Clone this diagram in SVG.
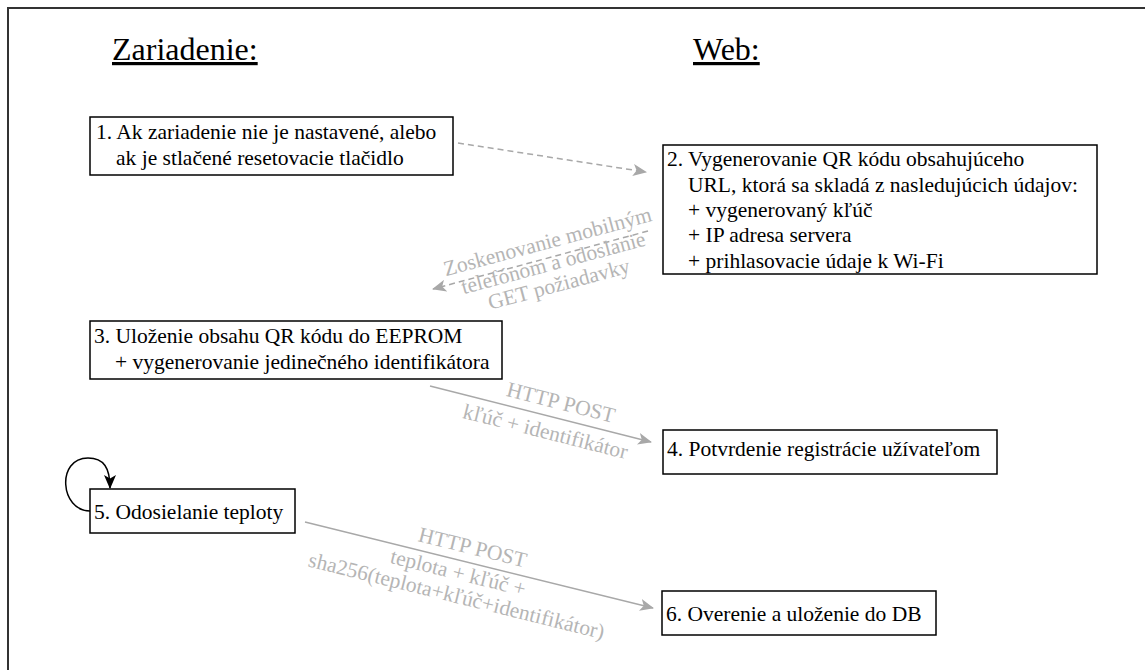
<svg xmlns="http://www.w3.org/2000/svg" width="1145" height="670" viewBox="0 0 1145 670">
<defs>
<style>
.node rect{fill:#fff;stroke:#000;stroke-width:1.5}
.node text, .title{font-family:"Liberation Serif","Times New Roman",serif;fill:#000}
.node text{font-size:21.5px}
.title{font-size:32px;text-decoration:underline}
.lbl{font-family:"Liberation Serif","Times New Roman",serif;font-size:21.5px;fill:#b5b5b5;text-anchor:middle}
.grey{fill:none;stroke:#a8a8a8;stroke-width:1.5}
.dash{stroke-dasharray:6 4}
</style>
<marker id="ag" viewBox="0 0 14 12" refX="13" refY="6" markerWidth="14" markerHeight="12" markerUnits="userSpaceOnUse" orient="auto">
<path d="M0,0 L14,6 L0,12 L3.5,6 z" fill="#a8a8a8"/>
</marker>
<marker id="ab" viewBox="0 0 14 12" refX="13" refY="6" markerWidth="14" markerHeight="12" markerUnits="userSpaceOnUse" orient="auto">
<path d="M0,0 L14,6 L0,12 L3.5,6 z" fill="#000"/>
</marker>
</defs>
<rect x="0" y="0" width="1145" height="670" fill="#fff"/>
<rect x="8" y="8" width="1200" height="700" fill="none" stroke="#333" stroke-width="2"/>
<text class="title" x="112" y="60">Zariadenie:</text>
<text class="title" x="693" y="60">Web:</text>

<g id="connectors">
<line class="grey dash" x1="458" y1="143" x2="646" y2="172" marker-end="url(#ag)"/>
<line class="grey dash" x1="648" y1="231" x2="433" y2="289" marker-end="url(#ag)"/>
<g transform="translate(553,262) rotate(-15)">
<text class="lbl" x="0" y="-14">Zoskenovanie mobilným</text>
<text class="lbl" x="0" y="8">telefónom a odoslanie</text>
<text class="lbl" x="0" y="30">GET požiadavky</text>
</g>
<line class="grey" x1="430" y1="386" x2="651" y2="442" marker-end="url(#ag)"/>
<g transform="translate(553,418) rotate(14.2)">
<text class="lbl" x="4" y="-10">HTTP POST</text>
<text class="lbl" x="-4" y="22">kľúč + identifikátor</text>
</g>
<path d="M90,511 C60,511 56,458 88,458 C104,458 110,468 110,488" fill="none" stroke="#000" stroke-width="1.5" marker-end="url(#ab)"/>
<line class="grey" x1="305" y1="522" x2="653" y2="608" marker-end="url(#ag)"/>
<g transform="translate(465,562) rotate(13.9)">
<text class="lbl" x="4" y="-9">HTTP POST</text>
<text class="lbl" x="-4" y="19">teplota + kľúč +</text>
<text class="lbl" x="0" y="42">sha256(teplota+kľúč+identifikátor)</text>
</g>
</g>

<g id="n1" class="node">
<rect x="90" y="117" width="363" height="58"/>
<text x="96" y="139">1. Ak zariadenie nie je nastavené, alebo</text>
<text x="116" y="165">ak je stlačené resetovacie tlačidlo</text>
</g>
<g id="n2" class="node">
<rect x="663" y="145" width="434" height="129"/>
<text x="667" y="166">2. Vygenerovanie QR kódu obsahujúceho</text>
<text x="688" y="192">URL, ktorá sa skladá z nasledujúcich údajov:</text>
<text x="688" y="217">+ vygenerovaný kľúč</text>
<text x="688" y="242">+ IP adresa servera</text>
<text x="688" y="268">+ prihlasovacie údaje k Wi-Fi</text>
</g>
<g id="n3" class="node">
<rect x="90" y="321" width="412" height="58"/>
<text x="94" y="343">3. Uloženie obsahu QR kódu do EEPROM</text>
<text x="115" y="369">+ vygenerovanie jedinečného identifikátora</text>
</g>
<g id="n4" class="node">
<rect x="663" y="430" width="334" height="44"/>
<text x="667" y="456">4. Potvrdenie registrácie užívateľom</text>
</g>
<g id="n5" class="node">
<rect x="90" y="489" width="205" height="44"/>
<text x="94" y="519">5. Odosielanie teploty</text>
</g>
<g id="n6" class="node">
<rect x="662" y="591" width="274" height="44"/>
<text x="666" y="621">6. Overenie a uloženie do DB</text>
</g>
</svg>
